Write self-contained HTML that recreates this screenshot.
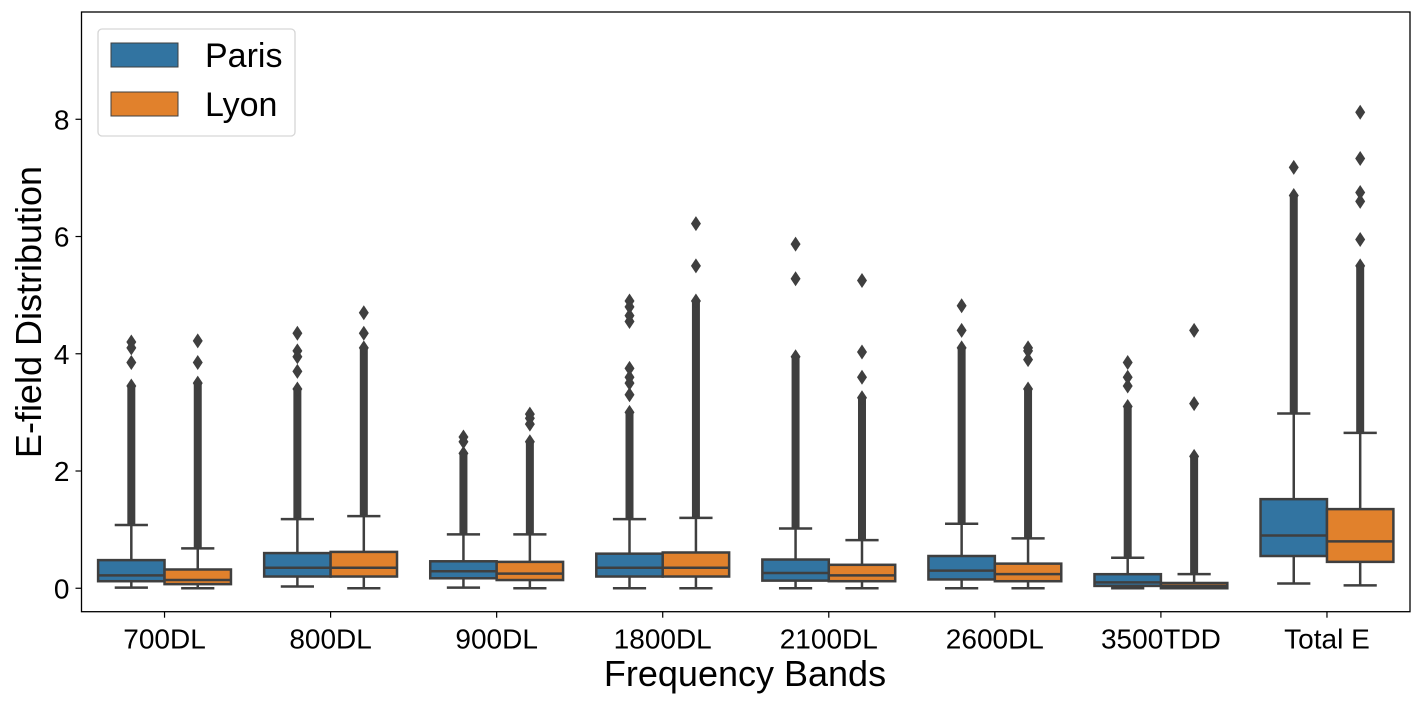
<!DOCTYPE html>
<html><head><meta charset="utf-8"><style>
html,body{margin:0;padding:0;background:#fff;}
svg{display:block;font-family:"Liberation Sans","DejaVu Sans",sans-serif;}
</style></head><body>
<svg id="chart" width="1420" height="704" viewBox="0 0 1420 704"></svg>
<script>
const categories = ["700DL","800DL","900DL","1800DL","2100DL","2600DL","3500TDD","Total E"];
const seriesNames = ["Paris","Lyon"];
const parisLow   = [0.01,0.03,0.01,0.0,0.0,0.0,0.0,0.08];
const parisQ1    = [0.12,0.20,0.17,0.20,0.13,0.15,0.04,0.55];
const parisMed   = [0.22,0.35,0.29,0.35,0.26,0.30,0.10,0.90];
const parisQ3    = [0.48,0.60,0.46,0.59,0.49,0.55,0.24,1.52];
const parisHigh  = [1.08,1.18,0.92,1.18,1.02,1.10,0.52,2.98];
const parisDense = [3.45,3.40,2.30,3.00,3.95,4.10,3.10,6.70];
const parisSparse = [[3.85,4.1,4.2],[3.7,3.95,4.05,4.35],[2.5,2.58],[3.3,3.5,3.6,3.75,4.55,4.65,4.8,4.9],[5.28,5.87],[4.4,4.82],[3.45,3.6,3.85],[7.18]];
const lyonLow    = [0.0,0.0,0.0,0.0,0.0,0.0,0.0,0.05];
const lyonQ1     = [0.07,0.20,0.14,0.20,0.12,0.12,0.0,0.45];
const lyonMed    = [0.14,0.35,0.25,0.35,0.22,0.24,0.04,0.80];
const lyonQ3     = [0.32,0.62,0.45,0.61,0.40,0.42,0.09,1.35];
const lyonHigh   = [0.68,1.23,0.92,1.20,0.82,0.85,0.24,2.65];
const lyonDense  = [3.50,4.10,2.50,4.90,3.25,3.40,2.25,5.50];
const lyonSparse = [[3.85,4.22],[4.35,4.7],[2.8,2.9,2.97],[5.5,6.22],[3.6,4.03,5.25],[3.9,4.05,4.1],[3.15,4.4],[5.95,6.6,6.75,7.33,8.12]];
const yTicks = [0,2,4,6,8];

const NS="http://www.w3.org/2000/svg";
const svg=document.getElementById('chart');
const L=81.5,R=1410,T=12,B=611.7;
const yMin=-0.4,yMax=9.83;
const band=(R-L)/categories.length;
function yS(v){return B-(v-yMin)/(yMax-yMin)*(B-T);}
function xC(i){return L+band*(i+0.5);}
function mk(tag,attrs,parent){const e=document.createElementNS(NS,tag);for(const k in attrs)e.setAttribute(k,attrs[k]);(parent||svg).appendChild(e);return e;}
const lc="#3f3f3f";
const colors=["#3274a1","#e1812c"];
const sets=[
 {low:parisLow,q1:parisQ1,med:parisMed,q3:parisQ3,high:parisHigh,dense:parisDense,sparse:parisSparse},
 {low:lyonLow,q1:lyonQ1,med:lyonMed,q3:lyonQ3,high:lyonHigh,dense:lyonDense,sparse:lyonSparse}];
const bw=band*0.4;
sets.forEach((s,si)=>{
 categories.forEach((c,i)=>{
  const g=mk('g',{});
  
  
  const cx=xC(i)+(si===0?-bw/2:bw/2);
  mk('line',{x1:cx,x2:cx,y1:yS(s.high[i]),y2:yS(s.dense[i]),stroke:lc,'stroke-width':8},g);
  const pts=[s.dense[i]].concat(s.sparse[i]);
  pts.forEach(v=>{const y=yS(v);mk('polygon',{points:`${cx},${y-7.5} ${cx+5},${y} ${cx},${y+7.5} ${cx-5},${y}`,fill:lc},g);});
  mk('line',{x1:cx,x2:cx,y1:yS(s.q3[i]),y2:yS(s.high[i]),stroke:lc,'stroke-width':2.5},g);
  mk('line',{x1:cx,x2:cx,y1:yS(s.q1[i]),y2:yS(s.low[i]),stroke:lc,'stroke-width':2.5},g);
  mk('line',{x1:cx-bw/4,x2:cx+bw/4,y1:yS(s.high[i]),y2:yS(s.high[i]),stroke:lc,'stroke-width':2.5},g);
  mk('line',{x1:cx-bw/4,x2:cx+bw/4,y1:yS(s.low[i]),y2:yS(s.low[i]),stroke:lc,'stroke-width':2.5},g);
  mk('rect',{x:cx-bw/2,y:yS(s.q3[i]),width:bw,height:Math.max(1,yS(s.q1[i])-yS(s.q3[i])),fill:colors[si],stroke:lc,'stroke-width':2.5},g);
  mk('line',{x1:cx-bw/2,x2:cx+bw/2,y1:yS(s.med[i]),y2:yS(s.med[i]),stroke:lc,'stroke-width':2.5},g);
 });
});
const fr=mk('rect',{x:L,y:T,width:R-L,height:B-T,fill:'none',stroke:'#000','stroke-width':1.3});


yTicks.forEach(v=>{
 const y=yS(v);
 mk('line',{x1:L-6,x2:L,y1:y,y2:y,stroke:'#000','stroke-width':1.2});
 const t=mk('text',{x:L-12,y:y+10,'text-anchor':'end','font-size':28,fill:'#000'});
 t.textContent=v;
 
 
});
categories.forEach((c,i)=>{
 const x=xC(i);
 mk('line',{x1:x,x2:x,y1:B,y2:B+6,stroke:'#000','stroke-width':1.2});
 const t=mk('text',{x:x,y:B+37,'text-anchor':'middle','font-size':28,fill:'#000'});
 t.textContent=c;
 
 
});
const xt=mk('text',{x:745,y:686,'text-anchor':'middle','font-size':36,fill:'#000'});
xt.textContent='Frequency Bands';


const yt=mk('text',{x:0,y:0,'text-anchor':'middle','font-size':36,fill:'#000',transform:`translate(41,312) rotate(-90)`});
yt.textContent='E-field Distribution';


const lg=mk('g',{});


mk('rect',{x:98,y:29,width:197,height:107,rx:4,fill:'#fff',stroke:'#d6d6d6','stroke-width':1.3},lg);
seriesNames.forEach((n,k)=>{
 const e=mk('g',{},lg);
 
 
 mk('rect',{x:111,y:43+k*49,width:67,height:24,fill:colors[k],stroke:lc,'stroke-width':1},e);
 const t=mk('text',{x:205,y:67+k*49,'font-size':34,fill:'#000'},e);
 t.textContent=n;
});
</script>
</body></html>
